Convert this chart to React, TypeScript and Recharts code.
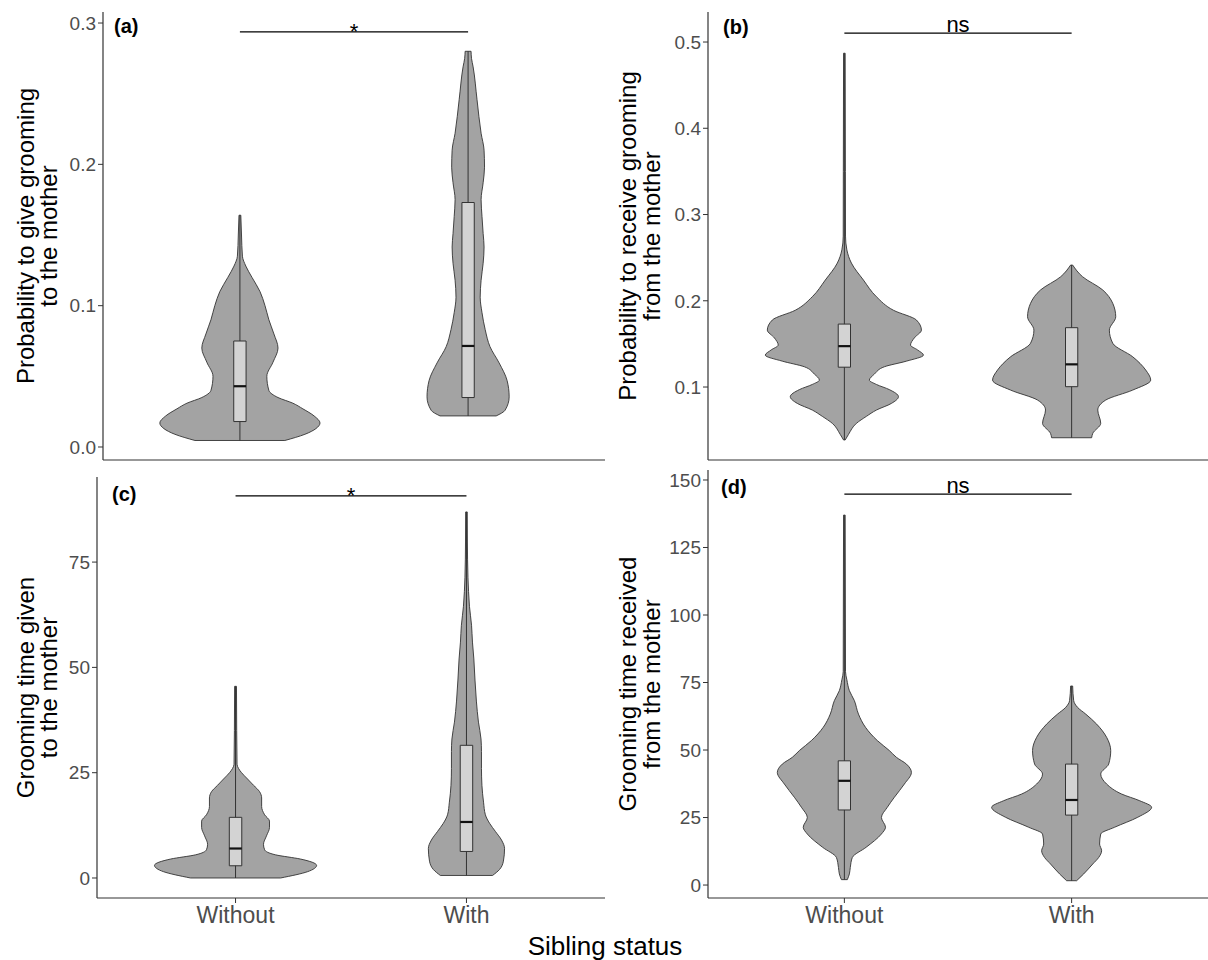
import { ComposedChart, Area, Line, XAxis, YAxis, ReferenceLine } from "recharts";

const CATEGORIES = ["Without", "With"];

// violin profiles: value levels (ys) and half-widths in category units (ws)
// stats = [min, q1, median, q3, max]

// (a) probability to give grooming
const A_TICKS = [0, 0.1, 0.2, 0.3];
const A_WITHOUT_Y = [0.0046, 0.009, 0.013, 0.017, 0.022, 0.027, 0.031, 0.035, 0.04, 0.05, 0.06, 0.07, 0.08, 0.09, 0.1, 0.11, 0.12, 0.128, 0.135, 0.15, 0.164];
const A_WITHOUT_W = [0.197, 0.285, 0.333, 0.351, 0.325, 0.276, 0.232, 0.167, 0.127, 0.118, 0.145, 0.167, 0.149, 0.127, 0.11, 0.088, 0.053, 0.026, 0.011, 0.007, 0.004];
const A_WITHOUT_STATS = [0.0046, 0.018, 0.043, 0.075, 0.164];
const A_WITH_Y = [0.022, 0.026, 0.0355, 0.047, 0.0595, 0.071, 0.083, 0.095, 0.106, 0.118, 0.13, 0.1415, 0.151, 0.163, 0.175, 0.187, 0.198, 0.21, 0.222, 0.246, 0.269, 0.275, 0.28];
const A_WITH_W = [0.123, 0.162, 0.18, 0.171, 0.136, 0.096, 0.075, 0.061, 0.053, 0.057, 0.066, 0.07, 0.066, 0.061, 0.057, 0.066, 0.072, 0.07, 0.057, 0.039, 0.022, 0.015, 0.013];
const A_WITH_STATS = [0.022, 0.035, 0.0715, 0.173, 0.28];

// (b) probability to receive grooming
const B_TICKS = [0.1, 0.2, 0.3, 0.4, 0.5];
const B_WITHOUT_Y = [0.0386, 0.045, 0.0579, 0.066, 0.0733, 0.081, 0.0888, 0.097, 0.103, 0.108, 0.115, 0.1235, 0.13, 0.137, 0.143, 0.1487, 0.157, 0.166, 0.1777, 0.189, 0.2047, 0.224, 0.2437, 0.259, 0.275, 0.35, 0.487];
const B_WITHOUT_W = [0.0035, 0.018, 0.053, 0.097, 0.141, 0.207, 0.238, 0.198, 0.141, 0.11, 0.132, 0.176, 0.273, 0.348, 0.322, 0.291, 0.308, 0.339, 0.317, 0.216, 0.141, 0.084, 0.031, 0.011, 0.005, 0.0045, 0.0035];
const B_WITHOUT_STATS = [0.0386, 0.123, 0.1474, 0.173, 0.487];
const B_WITH_Y = [0.0412, 0.0463, 0.0579, 0.0733, 0.0849, 0.0965, 0.108, 0.1197, 0.135, 0.1507, 0.166, 0.1815, 0.197, 0.2125, 0.2279, 0.2414];
const B_WITH_W = [0.088, 0.093, 0.128, 0.115, 0.15, 0.269, 0.348, 0.326, 0.269, 0.181, 0.166, 0.194, 0.181, 0.137, 0.048, 0.0045];
const B_WITH_STATS = [0.0412, 0.1004, 0.1263, 0.1688, 0.2414];

// (c) grooming time given
const C_TICKS = [0, 25, 50, 75];
const C_WITHOUT_Y = [0, 1.5, 3, 4.5, 5.5, 6.7, 8, 10, 12, 13.5, 15, 17, 19, 20.5, 22, 23.5, 25, 26, 27, 35, 45.5];
const C_WITHOUT_W = [0.195, 0.312, 0.351, 0.281, 0.173, 0.126, 0.121, 0.134, 0.147, 0.147, 0.126, 0.113, 0.113, 0.104, 0.078, 0.052, 0.026, 0.013, 0.0065, 0.005, 0.004];
const C_WITHOUT_STATS = [0, 2.9, 7, 14.4, 45.5];
const C_WITH_Y = [0.6, 2, 4, 7, 9, 11, 13, 15, 18, 22, 26, 30, 33, 37, 42, 47, 52, 56, 60, 64.5, 68, 71.4, 80, 86.9];
const C_WITH_W = [0.113, 0.143, 0.16, 0.165, 0.152, 0.126, 0.1, 0.082, 0.074, 0.067, 0.065, 0.065, 0.063, 0.052, 0.043, 0.037, 0.032, 0.026, 0.022, 0.013, 0.009, 0.0065, 0.004, 0.0035];
const C_WITH_STATS = [0.6, 6.3, 13.3, 31.5, 86.9];

// (d) grooming time received
const D_TICKS = [0, 25, 50, 75, 100, 125, 150];
const D_WITHOUT_Y = [2, 4.1, 6.5, 10.2, 14, 18.9, 21.4, 25, 28.8, 32.5, 37.4, 41.7, 44.8, 47.3, 49.8, 53.5, 58.4, 63.3, 68.3, 72, 76, 79, 100, 137];
const D_WITHOUT_W = [0.013, 0.022, 0.026, 0.035, 0.096, 0.163, 0.181, 0.163, 0.189, 0.22, 0.264, 0.295, 0.273, 0.229, 0.198, 0.145, 0.093, 0.062, 0.044, 0.022, 0.011, 0.005, 0.0045, 0.0035];
const D_WITHOUT_STATS = [2, 27.8, 38.6, 46, 137];
const D_WITH_Y = [1.6, 4.1, 7.8, 10.2, 12.7, 15.2, 18.9, 21.4, 25.1, 28.8, 31.2, 33.7, 37.4, 41.1, 44.8, 49.8, 54.7, 59.6, 63.3, 65.8, 68.3, 73.7];
const D_WITH_W = [0.022, 0.053, 0.093, 0.119, 0.132, 0.123, 0.128, 0.189, 0.291, 0.352, 0.3, 0.22, 0.154, 0.128, 0.163, 0.172, 0.154, 0.11, 0.062, 0.026, 0.009, 0.0045];
const D_WITH_STATS = [1.6, 25.9, 31.5, 44.8, 73.7];

const FONT = '"Liberation Sans", Arial, sans-serif';
const VIOLIN_FILL = "#a3a3a3";
const BOX_FILL = "#d3d3d3";
const EDGE = "#333333";
const TICK_GREY = "#4d4d4d";
const BOX_HALF = 0.027;
const Y_AXIS_W = 60;

type Violin = { ys: number[]; ws: number[]; stats: number[] };
type Frame = { left: number; top: number; width: number; height: number; x0: number; x1: number; y0: number; y1: number };
type PanelSpec = {
  letter: string;
  letterPos: [number, number];
  title: [string, string];
  titleX: [number, number];
  ticks: number[];
  digits: number;
  domain: [number, number];
  sigY: number;
  sigText: string;
  violins: Violin[];
  frame: Frame;
  xLabels: boolean;
};

const PANELS: PanelSpec[] = [
  {
    letter: "(a)",
    letterPos: [114, 33],
    title: ["Probability to give grooming", "to the mother"],
    titleX: [34, 57],
    ticks: A_TICKS,
    digits: 1,
    domain: [-0.0092, 0.3078],
    sigY: 0.2937,
    sigText: "*",
    violins: [
      { ys: A_WITHOUT_Y, ws: A_WITHOUT_W, stats: A_WITHOUT_STATS },
      { ys: A_WITH_Y, ws: A_WITH_W, stats: A_WITH_STATS },
    ],
    frame: { left: 0, top: 0, width: 612, height: 465, x0: 103, x1: 605, y0: 12, y1: 460 },
    xLabels: false,
  },
  {
    letter: "(b)",
    letterPos: [723, 34],
    title: ["Probability to receive grooming", "from the mother"],
    titleX: [636, 660],
    ticks: B_TICKS,
    digits: 1,
    domain: [0.0154, 0.5348],
    sigY: 0.5104,
    sigText: "ns",
    violins: [
      { ys: B_WITHOUT_Y, ws: B_WITHOUT_W, stats: B_WITHOUT_STATS },
      { ys: B_WITH_Y, ws: B_WITH_W, stats: B_WITH_STATS },
    ],
    frame: { left: 612, top: 0, width: 596, height: 465, x0: 708, x1: 1208, y0: 12, y1: 460 },
    xLabels: false,
  },
  {
    letter: "(c)",
    letterPos: [112, 501],
    title: ["Grooming time given", "to the mother"],
    titleX: [34, 57],
    ticks: C_TICKS,
    digits: 0,
    domain: [-4.75, 95.2],
    sigY: 90.7,
    sigText: "*",
    violins: [
      { ys: C_WITHOUT_Y, ws: C_WITHOUT_W, stats: C_WITHOUT_STATS },
      { ys: C_WITH_Y, ws: C_WITH_W, stats: C_WITH_STATS },
    ],
    frame: { left: 0, top: 465, width: 612, height: 495, x0: 97, x1: 605, y0: 477, y1: 898 },
    xLabels: true,
  },
  {
    letter: "(d)",
    letterPos: [721, 494],
    title: ["Grooming time received", "from the mother"],
    titleX: [636, 660],
    ticks: D_TICKS,
    digits: 0,
    domain: [-4.8, 153.7],
    sigY: 144.8,
    sigText: "ns",
    violins: [
      { ys: D_WITHOUT_Y, ws: D_WITHOUT_W, stats: D_WITHOUT_STATS },
      { ys: D_WITH_Y, ws: D_WITH_W, stats: D_WITH_STATS },
    ],
    frame: { left: 612, top: 465, width: 596, height: 495, x0: 708, x1: 1208, y0: 470, y1: 898 },
    xLabels: true,
  },
];

const violinRows = (v: Violin, pos: number) =>
  v.ys.map((y, i) => ({ y, band: [pos - v.ws[i], pos + v.ws[i]] }));

function ViolinMarks(v: Violin, pos: number) {
  const [min, q1, med, q3, max] = v.stats;
  const l = pos - BOX_HALF;
  const r = pos + BOX_HALF;
  const n = v.ys.length - 1;
  const lineProps = { type: "linear" as const, dataKey: "x", stroke: EDGE, dot: false, activeDot: false, isAnimationActive: false };
  return [
    <Area
      key={`v${pos}`}
      data={violinRows(v, pos)}
      dataKey="band"
      type="monotone"
      fill={VIOLIN_FILL}
      fillOpacity={1}
      stroke={EDGE}
      strokeWidth={0.9}
      dot={false}
      activeDot={false}
      isAnimationActive={false}
    />,
    <Line key={`cb${pos}`} {...lineProps} strokeWidth={0.9} data={[{ y: v.ys[0], x: pos - v.ws[0] }, { y: v.ys[0], x: pos + v.ws[0] }]} />,
    <Line key={`ct${pos}`} {...lineProps} strokeWidth={0.9} data={[{ y: v.ys[n], x: pos - v.ws[n] }, { y: v.ys[n], x: pos + v.ws[n] }]} />,
    <Line key={`wl${pos}`} {...lineProps} strokeWidth={1} data={[{ y: min, x: pos }, { y: q1, x: pos }]} />,
    <Line key={`wh${pos}`} {...lineProps} strokeWidth={1} data={[{ y: q3, x: pos }, { y: max, x: pos }]} />,
    <Area
      key={`bf${pos}`}
      data={[{ y: q1, band: [l, r] }, { y: q3, band: [l, r] }]}
      dataKey="band"
      type="linear"
      fill={BOX_FILL}
      fillOpacity={1}
      stroke="none"
      dot={false}
      activeDot={false}
      isAnimationActive={false}
    />,
    <Line
      key={`bo${pos}`}
      {...lineProps}
      strokeWidth={1}
      data={[{ y: q1, x: l }, { y: q1, x: r }, { y: q3, x: r }, { y: q3, x: l }, { y: q1, x: l }]}
    />,
    <Line key={`md${pos}`} {...lineProps} stroke="#111" strokeWidth={2.2} data={[{ y: med, x: l }, { y: med, x: r }]} />,
  ];
}

function Panel({ p }: { p: PanelSpec }) {
  const f = p.frame;
  const xAxisH = p.xLabels ? 40 : 1;
  const margin = {
    top: f.y0 - f.top,
    right: f.left + f.width - f.x1,
    left: f.x0 - f.left - Y_AXIS_W,
    bottom: f.top + f.height - f.y1 - xAxisH,
  };
  return (
    <div style={{ position: "absolute", left: f.left, top: f.top }}>
      <ComposedChart width={f.width} height={f.height} layout="vertical" margin={margin}>
        <XAxis
          type="number"
          domain={[0.4, 2.6]}
          ticks={[1, 2]}
          allowDataOverflow
          height={xAxisH}
          tickFormatter={(v: number) => CATEGORIES[v - 1]}
          tick={p.xLabels ? { fill: TICK_GREY, fontSize: 23, fontFamily: FONT } : false}
          tickLine={p.xLabels ? { stroke: EDGE } : false}
          tickSize={5}
          tickMargin={4}
          axisLine={{ stroke: EDGE, strokeWidth: 1.2 }}
        />
        <YAxis
          type="number"
          dataKey="y"
          reversed
          domain={p.domain}
          ticks={p.ticks}
          allowDataOverflow
          interval={0}
          width={Y_AXIS_W}
          tickFormatter={(v: number) => v.toFixed(p.digits)}
          tick={{ fill: TICK_GREY, fontSize: 19, fontFamily: FONT }}
          tickLine={{ stroke: EDGE }}
          tickSize={5}
          axisLine={{ stroke: EDGE, strokeWidth: 1.2 }}
        />
        {p.violins.flatMap((v, i) => ViolinMarks(v, i + 1))}
        <ReferenceLine
          segment={[{ x: 1, y: p.sigY }, { x: 2, y: p.sigY }]}
          stroke="#000"
          strokeWidth={1.2}
          label={{
            value: p.sigText,
            position: "top",
            offset: p.sigText === "*" ? -7 : 1,
            fill: "#000",
            fontSize: 22,
            fontFamily: FONT,
          }}
        />
      </ComposedChart>
    </div>
  );
}

export default function App() {
  return (
    <div style={{ position: "absolute", left: 0, top: 0, width: 1208, height: 960, background: "#fff", overflow: "hidden" }}>
      {PANELS.map((p) => (
        <Panel key={p.letter} p={p} />
      ))}
      <svg width={1208} height={960} style={{ position: "absolute", left: 0, top: 0, pointerEvents: "none" }} fontFamily={FONT}>
        {PANELS.map((p) => {
          const cy = (p.frame.y0 + p.frame.y1) / 2;
          return (
            <g key={p.letter}>
              <text x={p.letterPos[0]} y={p.letterPos[1]} fontSize={20} fontWeight="bold" fill="#000">
                {p.letter}
              </text>
              {p.title.map((t, i) => (
                <text key={t} transform={`translate(${p.titleX[i]},${cy}) rotate(-90)`} textAnchor="middle" fontSize={24} fill="#000">
                  {t}
                </text>
              ))}
            </g>
          );
        })}
        <text x={605} y={955} textAnchor="middle" fontSize={26} fill="#000">
          Sibling status
        </text>
      </svg>
    </div>
  );
}
